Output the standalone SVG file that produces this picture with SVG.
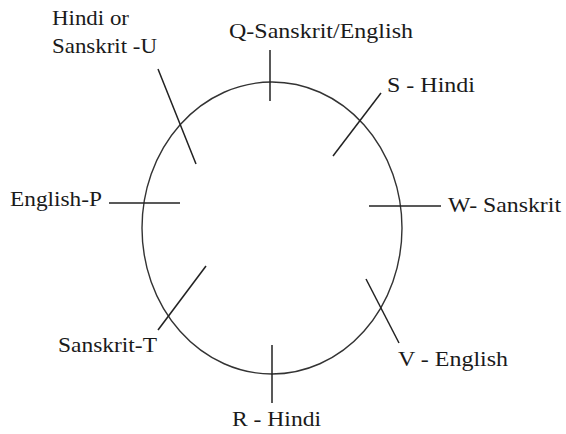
<svg xmlns="http://www.w3.org/2000/svg" width="566" height="434" viewBox="0 0 566 434">
<style>
.lbl{font-size:21px;fill:#1a1a1a}
.tick{stroke:#222;stroke-width:1.5;fill:none}
.ring{stroke:#333;stroke-width:1.4;fill:none}
</style>
<rect width="566" height="434" fill="#fff"/>
<g id="circle"><ellipse class="ring" cx="272" cy="228" rx="130" ry="146"/></g>
<g id="connectors">
<line class="tick" x1="270" y1="50" x2="270" y2="101"/>
<line class="tick" x1="158" y1="69" x2="196" y2="164"/>
<line class="tick" x1="109" y1="203" x2="180" y2="203"/>
<line class="tick" x1="381" y1="93" x2="333" y2="156"/>
<line class="tick" x1="369" y1="206" x2="441" y2="206"/>
<line class="tick" x1="206" y1="266" x2="158" y2="330"/>
<line class="tick" x1="272" y1="345" x2="272" y2="403"/>
<line class="tick" x1="366" y1="279" x2="399" y2="343"/>
</g>
<g font-family="Liberation Serif, DejaVu Serif, serif">
<g id="U"><text class="lbl" x="52" y="25" textLength="77" lengthAdjust="spacingAndGlyphs">Hindi or</text><text class="lbl" x="52" y="53" textLength="105" lengthAdjust="spacingAndGlyphs">Sanskrit -U</text></g>
<g id="Q"><text class="lbl" x="229" y="38" textLength="184" lengthAdjust="spacingAndGlyphs">Q-Sanskrit/English</text></g>
<g id="S"><text class="lbl" x="387" y="92" textLength="88" lengthAdjust="spacingAndGlyphs">S - Hindi</text></g>
<g id="P"><text class="lbl" x="10" y="206" textLength="92" lengthAdjust="spacingAndGlyphs">English-P</text></g>
<g id="W"><text class="lbl" x="448" y="212" textLength="113" lengthAdjust="spacingAndGlyphs">W- Sanskrit</text></g>
<g id="T"><text class="lbl" x="58" y="352" textLength="99" lengthAdjust="spacingAndGlyphs">Sanskrit-T</text></g>
<g id="V"><text class="lbl" x="398" y="366" textLength="110" lengthAdjust="spacingAndGlyphs">V - English</text></g>
<g id="R"><text class="lbl" x="232" y="426" textLength="89" lengthAdjust="spacingAndGlyphs">R - Hindi</text></g>
</g>
</svg>
